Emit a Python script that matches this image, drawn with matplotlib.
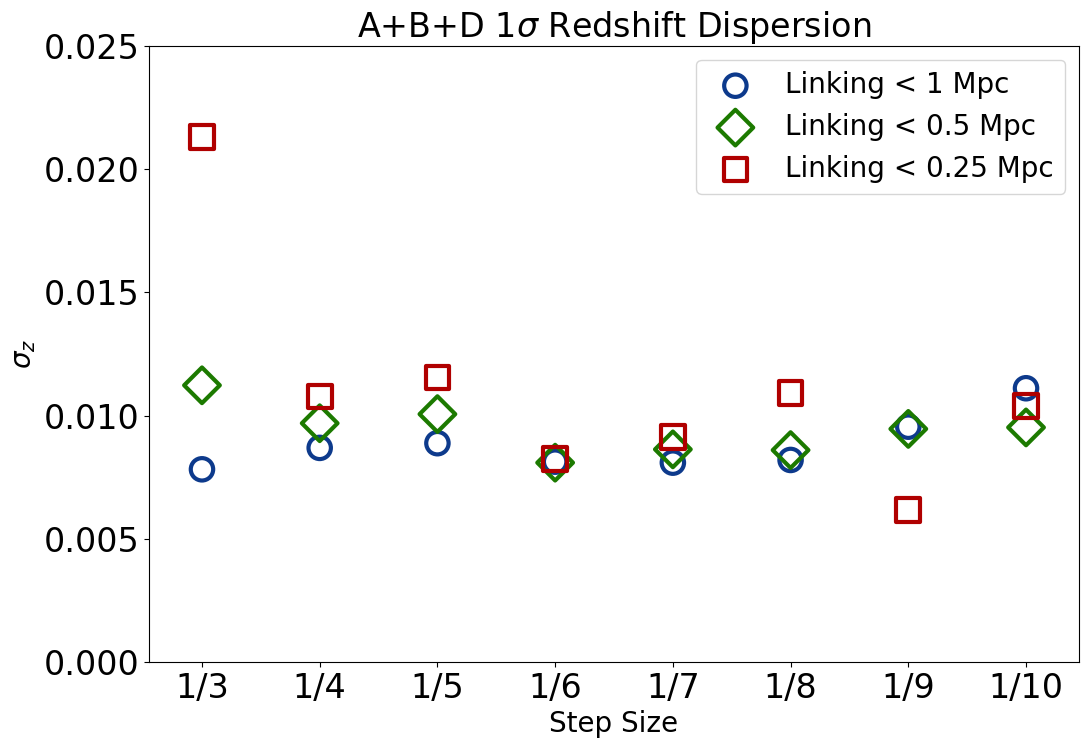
import numpy as np
import matplotlib
matplotlib.use('Agg')
import matplotlib.pyplot as plt

# Step sizes and 1-sigma redshift dispersion per linking length
steps = ['1/3', '1/4', '1/5', '1/6', '1/7', '1/8', '1/9', '1/10']
sig_1mpc = [0.00782, 0.00869, 0.00888, 0.00813, 0.00809, 0.00820, 0.00955, 0.01111]
sig_05mpc = [0.01123, 0.00969, 0.01006, 0.00809, 0.00863, 0.00860, 0.00946, 0.00952]
sig_025mpc = [0.02132, 0.01077, 0.01154, 0.00823, 0.00912, 0.01093, 0.00617, 0.01040]

x = np.arange(len(steps))

fig = plt.figure(figsize=(10.92, 7.48), dpi=100)
ax = fig.add_axes([149/1092, 1 - 662/748, (1079-149)/1092, (662-46)/748])

ax.scatter(x, sig_1mpc, s=260, marker='o', facecolors='none', edgecolors='#0d3a8c',
           linewidths=3, label='Linking < 1 Mpc')
ax.scatter(x, sig_05mpc, s=330, marker='D', facecolors='none', edgecolors='#1c7a00',
           linewidths=3, label='Linking < 0.5 Mpc')
ax.scatter(x, sig_025mpc, s=290, marker='s', facecolors='none', edgecolors='#b00000',
           linewidths=3, label='Linking < 0.25 Mpc')

ax.set_xticks(x)
ax.set_xticklabels(steps)
ax.set_xlim(-0.45, 7.45)
ax.set_ylim(0, 0.025)
ax.set_yticks([0, 0.005, 0.010, 0.015, 0.020, 0.025])
ax.set_yticklabels(['0.000', '0.005', '0.010', '0.015', '0.020', '0.025'])
ax.tick_params(labelsize=24)

ax.set_xlabel('Step Size', fontsize=20)
ax.set_ylabel(r'$\sigma_z$', fontsize=20)
ax.set_title(r'A+B+D 1$\sigma$ Redshift Dispersion', fontsize=24)
ax.legend(loc='upper right', fontsize=20, scatterpoints=1)

plt.savefig('out.png', dpi=100)
